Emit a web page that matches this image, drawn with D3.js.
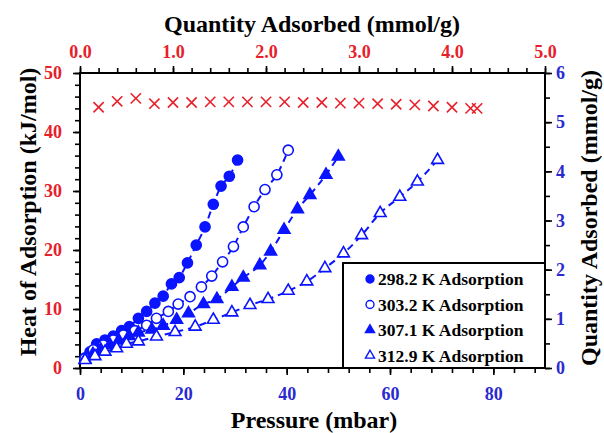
<!DOCTYPE html>
<html>
<head>
<meta charset="utf-8">
<script src="https://cdn.jsdelivr.net/npm/d3@7"></script>
<style>
  body { margin: 0; background: #fff; }
  svg { font-family: "Liberation Serif", "Times New Roman", serif; font-weight: bold; }
</style>
</head>
<body>
<svg id="chart" width="604" height="433"></svg>
<script>
// heat of adsorption (top axis: quantity, left axis: kJ/mol)
const heatQuantity = [0.20, 0.40, 0.60, 0.80, 1.00, 1.20, 1.40, 1.60, 1.80, 2.00, 2.20,
  2.40, 2.60, 2.80, 3.00, 3.20, 3.40, 3.60, 3.80, 4.00, 4.20, 4.27];
const heatValues = [44.2, 45.2, 45.7, 44.8, 45.0, 45.0, 45.1, 45.1, 45.1, 45.1, 45.1,
  45.0, 45.0, 44.9, 44.9, 44.8, 44.7, 44.6, 44.4, 44.2, 44.0, 44.0];

// isotherms (bottom axis: mbar, right axis: mmol/g)
const p298 = [0.97, 1.94, 3.23, 4.84, 6.45, 8.06, 9.55, 11.3, 12.9, 14.5, 16.1, 17.7, 19.2, 20.8, 22.5, 24.2, 25.8, 27.3, 28.9, 30.5];
const q298 = [0.20, 0.33, 0.49, 0.57, 0.65, 0.76, 0.84, 1.01, 1.15, 1.32, 1.46, 1.71, 1.84, 2.14, 2.50, 2.87, 3.33, 3.70, 3.90, 4.23];
const p303 = [0.97, 2.58, 4.52, 6.45, 8.39, 10.6, 12.9, 14.8, 17.1, 19.0, 21.3, 23.5, 25.5, 27.6, 29.7, 31.6, 33.7, 35.8, 38.1, 40.3];
const q303 = [0.20, 0.37, 0.47, 0.57, 0.67, 0.76, 0.87, 1.01, 1.15, 1.30, 1.45, 1.65, 1.87, 2.16, 2.47, 2.87, 3.28, 3.63, 3.93, 4.43];
const p307 = [1.0, 2.5, 4.0, 5.8, 7.5, 9.5, 11.3, 13.9, 16.1, 18.7, 21.0, 23.9, 26.5, 29.4, 31.6, 34.8, 36.9, 39.5, 42.1, 44.5, 47.6, 50.0];
const q307 = [0.17, 0.28, 0.37, 0.47, 0.56, 0.65, 0.72, 0.78, 0.86, 0.98, 1.11, 1.30, 1.40, 1.65, 1.84, 2.09, 2.37, 2.81, 3.23, 3.52, 3.93, 4.30];
const p312 = [0.97, 2.9, 4.84, 7.1, 9.0, 11.3, 14.8, 18.4, 22.3, 25.8, 29.4, 32.9, 36.4, 40.3, 43.9, 47.4, 51.0, 54.5, 58.1, 61.9, 65.3, 69.2];
const q312 = [0.16, 0.24, 0.33, 0.40, 0.49, 0.54, 0.64, 0.73, 0.84, 0.98, 1.13, 1.28, 1.40, 1.57, 1.76, 2.03, 2.33, 2.70, 3.15, 3.48, 3.79, 4.23];

const seriesNames = ["298.2 K Adsorption", "303.2 K Adsorption", "307.1 K Adsorption", "312.9 K Adsorption"];

const bottomTicks = [0, 20, 40, 60, 80];
const topTicks = [0, 1, 2, 3, 4, 5];
const leftTicks = [0, 10, 20, 30, 40, 50];
const rightTicks = [0, 1, 2, 3, 4, 5, 6];

const RED = "#e8202a";
const BLUE = "#0a14ff";
const BLUE_TEXT = "#2a2ad0";

const margin = { left: 80, right: 545, top: 73, bottom: 368 };
const svg = d3.select("#chart");

const x = d3.scaleLinear().domain([0, 90]).range([margin.left, margin.right]);
const xTop = d3.scaleLinear().domain([0, 5]).range([margin.left, margin.right]);
const yLeft = d3.scaleLinear().domain([0, 50]).range([margin.bottom, margin.top]);
const yRight = d3.scaleLinear().domain([0, 6]).range([margin.bottom, margin.top]);

function styleAxis(g, color) {
  g.select(".domain").remove();
  g.selectAll(".tick line").attr("stroke", "#000").attr("stroke-width", 1.6);
  g.selectAll(".tick text")
    .attr("fill", color)
    .style("font-size", "18px")
    .style("font-family", "'Liberation Serif', 'Times New Roman', serif")
    .style("font-weight", "bold");
}

// minor ticks
const minor = (step, n) => d3.range(0, n + 1e-9, step);
svg.append("g").attr("transform", `translate(0,${margin.bottom})`)
  .call(d3.axisBottom(x).tickValues(minor(4, 90)).tickSize(5).tickFormat(""))
  .call(g => styleAxis(g, BLUE_TEXT));
svg.append("g").attr("transform", `translate(0,${margin.top})`)
  .call(d3.axisTop(xTop).tickValues(minor(0.2, 5)).tickSize(5).tickFormat(""))
  .call(g => styleAxis(g, RED));
svg.append("g").attr("transform", `translate(${margin.left},0)`)
  .call(d3.axisLeft(yLeft).tickValues(minor(2, 50)).tickSize(5).tickFormat(""))
  .call(g => styleAxis(g, RED));
svg.append("g").attr("transform", `translate(${margin.right},0)`)
  .call(d3.axisRight(yRight).tickValues(minor(0.5, 6)).tickSize(5).tickFormat(""))
  .call(g => styleAxis(g, BLUE_TEXT));

// major ticks
svg.append("g").attr("transform", `translate(0,${margin.bottom})`)
  .call(d3.axisBottom(x).tickValues(bottomTicks).tickSize(7).tickPadding(12).tickFormat(d3.format("d")))
  .call(g => styleAxis(g, BLUE_TEXT));
svg.append("g").attr("transform", `translate(0,${margin.top})`)
  .call(d3.axisTop(xTop).tickValues(topTicks).tickSize(7).tickPadding(8).tickFormat(d3.format(".1f")))
  .call(g => styleAxis(g, RED));
svg.append("g").attr("transform", `translate(${margin.left},0)`)
  .call(d3.axisLeft(yLeft).tickValues(leftTicks).tickSize(7).tickPadding(11).tickFormat(d3.format("d")))
  .call(g => styleAxis(g, RED));
svg.append("g").attr("transform", `translate(${margin.right},0)`)
  .call(d3.axisRight(yRight).tickValues(rightTicks).tickSize(7).tickPadding(4).tickFormat(d3.format("d")))
  .call(g => styleAxis(g, BLUE_TEXT));

// frame
svg.append("rect")
  .attr("x", margin.left).attr("y", margin.top)
  .attr("width", margin.right - margin.left).attr("height", margin.bottom - margin.top)
  .attr("fill", "none").attr("stroke", "#000").attr("stroke-width", 2);

// axis titles
svg.append("text").attr("x", 312).attr("y", 32).attr("text-anchor", "middle")
  .style("font-size", "24px").text("Quantity Adsorbed (mmol/g)");
svg.append("text").attr("x", 314).attr("y", 428).attr("text-anchor", "middle")
  .style("font-size", "24px").text("Pressure (mbar)");
svg.append("text").attr("transform", "translate(36,212) rotate(-90)").attr("text-anchor", "middle")
  .style("font-size", "24px").text("Heat of Adsorption  (kJ/mol)");
svg.append("text").attr("transform", "translate(597,218) rotate(-90)").attr("text-anchor", "middle")
  .style("font-size", "24px").text("Quantity Adsorbed (mmol/g)");

// heat of adsorption crosses
const cross = d3.symbol().type(d3.symbolX).size(70);
svg.append("g").selectAll("path")
  .data(d3.zip(heatQuantity, heatValues))
  .join("path")
  .attr("d", cross)
  .attr("transform", d => `translate(${xTop(d[0])},${yLeft(d[1])})`)
  .attr("fill", "none").attr("stroke", RED).attr("stroke-width", 1.6);

// isotherms
const series = [
  { p: p298, q: q298, shape: d3.symbolCircle, filled: true },
  { p: p303, q: q303, shape: d3.symbolCircle, filled: false },
  { p: p307, q: q307, shape: d3.symbolTriangle, filled: true },
  { p: p312, q: q312, shape: d3.symbolTriangle, filled: false },
];

const line = d3.line().x(d => x(d[0])).y(d => yRight(d[1])).curve(d3.curveMonotoneX);

series.forEach(s => {
  const pts = d3.zip(s.p, s.q);
  svg.append("path").datum(pts)
    .attr("d", line)
    .attr("fill", "none").attr("stroke", BLUE).attr("stroke-width", 2)
    .attr("stroke-dasharray", "7,5");
  svg.append("g").selectAll("path").data(pts).join("path")
    .attr("d", d3.symbol().type(s.shape).size(s.shape === d3.symbolCircle ? 80 : 60))
    .attr("transform", d => `translate(${x(d[0])},${yRight(d[1])})`)
    .attr("fill", s.filled ? BLUE : "#fff")
    .attr("stroke", BLUE).attr("stroke-width", 1.6);
});

// legend
const legend = svg.append("g");
legend.append("rect")
  .attr("x", 343).attr("y", 263).attr("width", margin.right - 343).attr("height", margin.bottom - 263)
  .attr("fill", "#fff").attr("stroke", "#000").attr("stroke-width", 2);
seriesNames.forEach((name, i) => {
  const yy = 279 + i * 25.5;
  legend.append("path")
    .attr("d", d3.symbol().type(series[i].shape).size(series[i].shape === d3.symbolCircle ? 50 : 36))
    .attr("transform", `translate(370,${yy})`)
    .attr("fill", series[i].filled ? BLUE : "#fff")
    .attr("stroke", BLUE).attr("stroke-width", 1.4);
  legend.append("text").attr("x", 378).attr("y", yy + 6)
    .style("font-size", "17.5px").text(name);
});
</script>
</body>
</html>
